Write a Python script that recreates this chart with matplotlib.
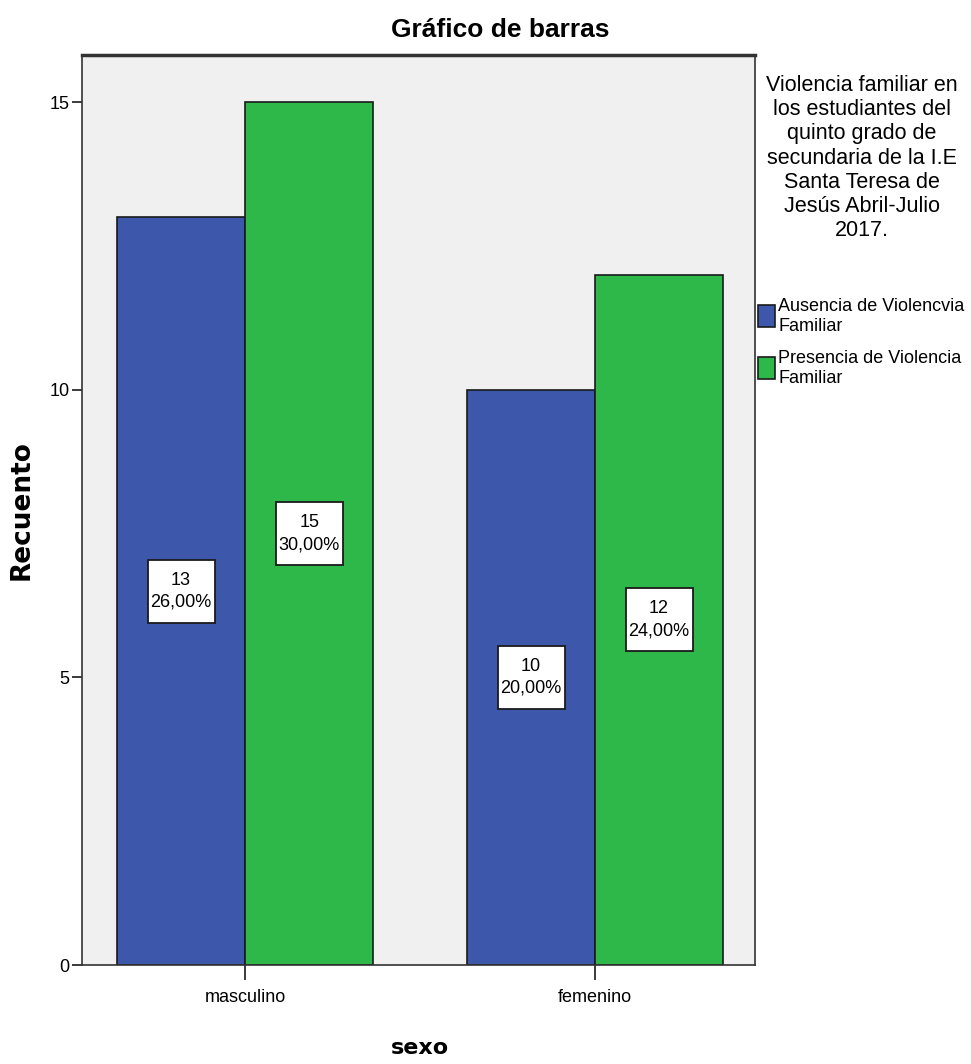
import matplotlib
matplotlib.use("Agg")
import matplotlib.pyplot as plt
from matplotlib.patches import Rectangle
from matplotlib.transforms import ScaledTranslation
import numpy as np

plt.rcParams['font.family'] = ['Liberation Sans Narrow', 'Liberation Sans', 'DejaVu Sans']

categories = ["masculino", "femenino"]
series_names = ["Ausencia de Violencvia\nFamiliar", "Presencia de Violencia\nFamiliar"]
ausencia = [13, 10]
presencia = [15, 12]
ausencia_pct = ["26,00%", "20,00%"]
presencia_pct = ["30,00%", "24,00%"]
yticks = [0, 5, 10, 15]

colors = ["#3D58AB", "#2EB84A"]
legend_title = ("Violencia familiar en\nlos estudiantes del\nquinto grado de\n"
                "secundaria de la I.E\nSanta Teresa de\nJesús Abril-Julio\n2017.")

fig = plt.figure(figsize=(9.71, 10.64), dpi=100)
ax = fig.add_axes([82 / 971, 1 - 965 / 1064, (755 - 82) / 971, (965 - 55) / 1064])
ax.set_facecolor("#F0F0F0")

x = np.arange(len(categories))
w = 0.366
series = [ausencia, presencia]
pcts = [ausencia_pct, presencia_pct]
for i, (vals, pc) in enumerate(zip(series, pcts)):
    offs = x + (i - 0.5) * w
    ax.bar(offs, vals, width=w, color=colors[i], edgecolor="#1a1a1a", linewidth=1.2, zorder=2)
    for xo, v, p in zip(offs, vals, pc):
        # white label box, sized in inches around the bar's mid-height
        box_tr = fig.dpi_scale_trans + ScaledTranslation(xo, v / 2, ax.transData)
        ax.add_patch(Rectangle((-0.335, -0.315), 0.67, 0.63, transform=box_tr,
                               facecolor="white", edgecolor="#1a1a1a", linewidth=1.3,
                               zorder=3, clip_on=False))
        ax.text(xo, v / 2, f"{v}\n{p}", ha="center", va="center", fontsize=13,
                linespacing=1.4, zorder=4)

ax.set_xlim(-0.466, 1.457)
ax.set_ylim(0, 15.82)
ax.set_yticks(yticks)
ax.set_yticklabels([str(t) for t in yticks], fontsize=13)
ax.set_xticks(x)
ax.set_xticklabels(categories, fontsize=13)
ax.tick_params(axis="y", length=7, width=1.2, color="#1a1a1a", pad=2)
ax.tick_params(axis="x", length=11, width=1.2, color="#1a1a1a", pad=6)
for side in ["left", "bottom", "right", "top"]:
    ax.spines[side].set_color("#333333")
    ax.spines[side].set_linewidth(1.2)
ax.spines["top"].set_linewidth(2.5)

fig.text(500 / 971, 1 - 30 / 1064, "Gráfico de barras", ha="center", va="center",
         fontsize=19, fontweight="bold")
fig.text(22 / 971, 1 - 510 / 1064, "Recuento", rotation=90, ha="center", va="center",
         fontsize=19, fontweight="bold", family=["DejaVu Sans"])
fig.text(420 / 971, 1 - 1048 / 1064, "sexo", ha="center", va="center",
         fontsize=16, fontweight="bold", family=["DejaVu Sans"])

fig.text(862 / 971, 1 - 158 / 1064, legend_title, ha="center", va="center",
         fontsize=15.5, linespacing=1.2)

for i, name in enumerate(series_names):
    ytop = 305 + i * 52
    fig.patches.append(Rectangle((758 / 971, 1 - (ytop + 22) / 1064), 17 / 971, 22 / 1064,
                                 transform=fig.transFigure, facecolor=colors[i],
                                 edgecolor="#1a1a1a", linewidth=1.2))
    fig.text(778 / 971, 1 - (ytop - 7) / 1064, name, ha="left", va="top",
             fontsize=13, linespacing=1.25)

fig.savefig("out.png", dpi=100)
